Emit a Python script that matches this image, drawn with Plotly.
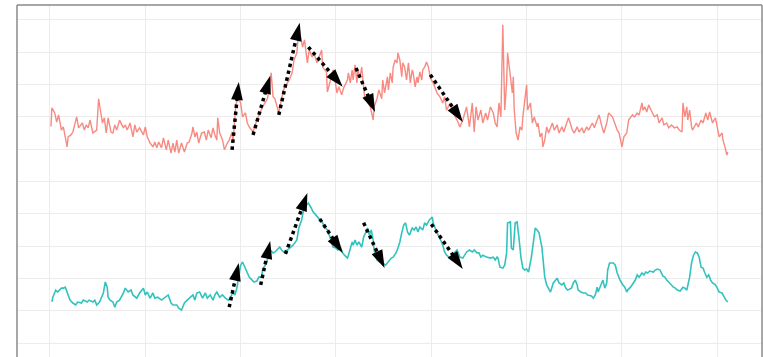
import plotly.graph_objects as go

# ---- series: upper (red) index ----
red_x = [1, 2, 5, 7, 9, 12, 14, 18, 19, 22, 24, 28, 30, 34, 36, 38, 40, 42, 45, 49,
         51, 55, 57, 59, 61, 64, 66, 68, 70, 73, 77, 79, 81, 84, 87, 89, 91, 94, 98, 100,
         102, 105, 108, 110, 112, 114, 117, 119, 122, 124, 127, 129, 131, 133, 135, 138, 141, 144, 146, 149,
         150, 152, 154, 156, 159, 162, 164, 166, 169, 171, 173, 175, 176, 178, 181, 183, 186, 188, 191, 192,
         195, 197, 200, 202, 205, 207, 209, 212, 213, 217, 220, 223, 228, 230, 232, 234, 236, 238, 240, 243,
         245, 249, 251, 254, 256, 259, 260, 263, 265, 267, 270, 272, 275, 277, 280, 282, 285, 286, 290, 291,
         294, 297, 299, 301, 303, 306, 308, 312, 313, 315, 317, 318, 320, 322, 323, 325, 327, 329, 330, 333,
         336, 339, 340, 343, 345, 348, 349, 351, 354, 355, 357, 359, 360, 362, 364, 365, 367, 369, 370, 372,
         374, 376, 378, 380, 381, 383, 385, 386, 388, 390, 391, 393, 395, 397, 399, 402, 406, 409, 412, 414,
         416, 420, 423, 427, 430, 433, 437, 440, 443, 445, 447, 449, 452, 454, 457, 459, 462, 465, 467, 469,
         471, 473, 474, 475, 476, 477, 479, 480, 483, 485, 486, 487, 489, 491, 493, 495, 496, 498, 500, 501,
         504, 506, 508, 511, 512, 514, 516, 517, 519, 521, 523, 527, 529, 532, 534, 537, 539, 542, 544, 548,
         550, 553, 555, 558, 560, 563, 565, 569, 571, 574, 576, 579, 581, 584, 586, 590, 592, 595, 597, 600,
         602, 605, 607, 611, 613, 616, 618, 621, 622, 624, 626, 628, 632, 634, 637, 639, 642, 644, 647, 649,
         652, 655, 658, 660, 663, 664, 666, 668, 669, 671, 673, 674, 678, 680, 683, 685, 688, 690, 692, 695,
         698, 700, 702, 705, 706, 708, 710, 711]
red_y = [67.0, 72.8, 71.2, 68.4, 70.6, 65.9, 66.9, 60.7, 63.8, 64.4, 65.3, 70.0, 66.6, 68.1, 65.9, 67.5, 66.6, 69.0, 65.0, 65.9,
         75.6, 68.1, 69.7, 65.0, 69.7, 65.3, 65.0, 67.5, 65.9, 69.0, 66.6, 67.5, 65.9, 68.1, 63.8, 67.5, 65.3, 66.6, 64.4, 66.9,
         63.8, 61.9, 60.7, 62.2, 60.4, 62.2, 60.4, 63.5, 59.8, 62.8, 58.8, 61.9, 59.1, 62.8, 58.8, 61.9, 59.1, 61.9, 62.2, 65.0,
         66.9, 63.8, 65.3, 61.9, 65.0, 65.3, 62.8, 65.9, 63.5, 66.6, 64.4, 62.8, 69.7, 65.0, 62.8, 59.8, 61.9, 62.8, 65.3, 62.2,
         73.7, 76.2, 74.3, 70.0, 71.2, 68.1, 66.9, 65.9, 65.3, 69.0, 71.2, 73.1, 75.6, 78.3, 83.6, 76.2, 75.6, 73.1, 71.2, 75.6,
         78.3, 80.5, 81.4, 83.6, 87.6, 89.8, 93.8, 94.7, 91.6, 93.8, 86.7, 90.7, 88.5, 89.8, 86.7, 88.2, 90.7, 85.4, 83.9, 77.7,
         81.4, 84.5, 81.4, 77.4, 79.3, 76.8, 78.9, 81.4, 83.6, 80.5, 84.5, 81.4, 86.1, 80.5, 84.5, 82.0, 85.4, 78.3, 76.2, 74.6,
         73.1, 69.0, 73.1, 75.6, 78.3, 75.6, 81.4, 77.4, 82.4, 78.3, 83.6, 80.5, 85.4, 87.6, 86.7, 89.8, 87.6, 82.4, 86.7, 85.4,
         81.4, 86.7, 80.5, 84.5, 83.6, 79.3, 82.4, 80.5, 83.9, 81.4, 84.5, 85.4, 87.0, 85.4, 82.0, 80.5, 77.4, 76.2, 74.3, 76.2,
         72.1, 74.3, 71.2, 69.0, 66.9, 69.0, 73.1, 66.9, 74.3, 65.3, 73.1, 69.0, 72.1, 68.1, 71.2, 69.0, 73.1, 71.2, 68.1, 66.9,
         74.3, 70.0, 91.6, 98.5, 85.4, 72.1, 80.5, 89.8, 82.4, 77.4, 82.4, 72.1, 65.0, 62.8, 66.9, 65.9, 70.0, 75.2, 79.9, 72.1,
         74.3, 68.1, 70.0, 66.9, 68.1, 63.8, 65.0, 60.7, 62.8, 66.9, 65.0, 68.1, 65.9, 67.5, 65.0, 66.9, 65.3, 68.1, 69.7, 65.9,
         65.0, 66.9, 65.3, 66.6, 65.0, 66.9, 65.9, 68.1, 66.6, 69.0, 70.6, 66.9, 65.0, 68.1, 71.2, 70.0, 68.1, 65.9, 65.0, 60.7,
         63.8, 65.0, 69.0, 70.6, 70.0, 71.2, 70.6, 74.3, 72.1, 73.1, 71.5, 73.7, 71.2, 70.0, 70.6, 68.1, 69.7, 67.5, 68.1, 66.6,
         67.5, 66.6, 66.9, 65.9, 65.3, 74.3, 70.0, 73.1, 69.0, 72.1, 66.9, 65.9, 68.1, 66.9, 69.0, 68.1, 71.2, 69.0, 71.5, 68.1,
         69.7, 66.6, 63.8, 65.0, 62.8, 60.7, 58.2, 59.1]

# ---- series: lower (teal) index ----
teal_x = [2, 3, 6, 8, 12, 14, 16, 18, 21, 24, 27, 29, 33, 35, 39, 41, 45, 47, 49, 52,
          56, 58, 60, 61, 63, 66, 68, 70, 73, 77, 79, 82, 85, 87, 91, 94, 98, 100, 102, 105,
          108, 110, 113, 117, 121, 124, 127, 129, 133, 135, 138, 141, 144, 146, 150, 152, 154, 157, 160, 163,
          165, 168, 171, 173, 175, 178, 181, 184, 187, 189, 192, 194, 196, 198, 200, 202, 205, 207, 209, 212,
          214, 217, 219, 222, 223, 227, 229, 231, 234, 236, 238, 241, 243, 245, 249, 252, 255, 259, 261, 264,
          266, 269, 271, 274, 276, 279, 281, 284, 286, 288, 291, 293, 295, 297, 300, 302, 305, 307, 309, 312,
          313, 315, 317, 318, 320, 322, 324, 327, 329, 331, 333, 335, 337, 339, 340, 342, 343, 346, 349, 352,
          355, 358, 360, 363, 365, 367, 369, 371, 373, 375, 377, 380, 382, 384, 386, 388, 391, 393, 395, 398,
          401, 402, 404, 406, 409, 412, 414, 416, 420, 423, 425, 427, 430, 433, 435, 437, 440, 443, 445, 448,
          450, 452, 454, 456, 458, 462, 465, 467, 469, 470, 472, 475, 477, 479, 480, 483, 484, 486, 487, 488,
          490, 491, 492, 494, 496, 498, 500, 502, 505, 507, 509, 511, 513, 516, 517, 519, 521, 525, 528, 530,
          532, 534, 537, 539, 541, 543, 547, 549, 551, 553, 554, 557, 559, 562, 564, 568, 570, 572, 574, 575,
          578, 580, 582, 584, 585, 587, 591, 593, 595, 598, 601, 603, 605, 606, 609, 612, 614, 616, 618, 621,
          623, 625, 627, 629, 633, 635, 637, 640, 643, 645, 647, 650, 654, 656, 658, 661, 664, 666, 668, 671,
          673, 675, 677, 679, 681, 683, 685, 687, 689, 691, 693, 695, 698, 700, 702, 705, 707, 709, 711]
teal_y = [12.8, 14.2, 16.4, 15.8, 17.0, 17.0, 17.3, 15.5, 13.3, 12.4, 11.8, 12.7, 12.4, 13.3, 12.7, 13.3, 12.7, 13.3, 11.8, 12.7,
          15.5, 18.9, 17.3, 14.2, 13.3, 12.7, 11.1, 12.7, 13.3, 15.5, 17.0, 15.8, 16.4, 14.9, 13.9, 15.5, 17.0, 14.9, 15.8, 13.9,
          15.5, 13.9, 14.2, 13.3, 14.2, 14.9, 12.4, 11.8, 11.8, 10.8, 10.2, 12.4, 13.3, 13.9, 14.9, 13.3, 15.5, 15.8, 13.9, 15.5,
          13.9, 14.9, 13.3, 14.9, 15.8, 14.2, 14.9, 13.9, 13.3, 13.9, 15.8, 14.9, 17.0, 20.7, 24.1, 25.1, 23.2, 21.7, 20.4, 19.5,
          18.9, 19.2, 20.4, 20.4, 22.6, 24.8, 26.6, 28.8, 27.9, 28.2, 28.8, 29.7, 28.8, 28.2, 28.8, 29.7, 30.3, 31.9, 35.6, 38.1,
          41.2, 42.7, 43.3, 41.8, 40.6, 39.6, 39.0, 38.1, 37.2, 35.9, 35.0, 33.4, 31.3, 29.7, 29.4, 28.8, 29.4, 27.9, 27.2, 26.3,
          27.2, 29.4, 31.3, 30.3, 31.9, 30.3, 31.3, 29.7, 32.8, 34.1, 35.6, 33.4, 35.0, 31.9, 28.8, 26.6, 25.7, 25.1, 24.8, 24.1,
          25.1, 26.3, 26.6, 27.9, 29.4, 31.3, 34.1, 36.5, 37.2, 34.4, 33.4, 35.6, 35.0, 35.9, 34.4, 35.9, 35.0, 37.2, 36.5, 38.1,
          39.0, 37.2, 35.6, 34.1, 32.5, 30.3, 28.2, 27.2, 26.3, 27.2, 28.2, 28.8, 26.6, 26.3, 27.2, 28.2, 28.8, 28.2, 28.8, 27.9,
          27.9, 26.6, 27.2, 26.9, 26.6, 26.3, 26.6, 25.7, 26.6, 26.3, 23.5, 23.2, 24.1, 27.9, 37.2, 37.5, 29.4, 28.8, 32.8, 37.2,
          37.5, 35.6, 32.5, 26.6, 23.2, 22.6, 22.9, 22.0, 26.6, 31.0, 35.6, 35.0, 34.1, 29.7, 25.7, 20.4, 18.0, 15.8, 18.6, 19.5,
          20.1, 18.6, 18.0, 18.6, 17.0, 16.4, 17.0, 18.6, 19.5, 18.0, 16.4, 15.8, 15.5, 15.5, 14.9, 14.6, 13.9, 14.9, 17.3, 15.8,
          18.0, 19.5, 17.0, 18.6, 22.6, 24.8, 24.8, 24.1, 21.7, 19.5, 18.0, 17.3, 15.8, 16.4, 17.3, 18.6, 19.5, 21.1, 20.4, 21.7,
          21.1, 22.0, 21.7, 22.3, 22.0, 22.6, 22.9, 22.6, 20.7, 20.4, 19.5, 18.6, 17.3, 17.0, 16.4, 16.1, 17.3, 17.0, 16.4, 20.4,
          24.8, 27.2, 28.2, 27.9, 26.6, 23.5, 23.2, 21.7, 20.4, 21.1, 19.5, 18.6, 18.0, 17.0, 15.8, 15.5, 14.2, 13.3, 12.7]

# ---- trend arrows: (x_start, y_start, x_end, y_end) ----
red_arrows = [(191, 59.8, 198, 80.8), (213, 64.4, 231, 82.7), (240, 70.6, 262, 99.1),
              (271, 91.6, 307, 79.3), (321, 85.1, 341, 71.5), (399, 83.0, 433, 68.4)]
teal_arrows = [(188, 11.1, 198, 24.8), (221, 18.0, 231, 31.6), (247, 27.6, 270, 46.4),
               (283, 38.4, 307, 27.9), (329, 37.2, 351, 23.2), (400, 36.8, 433, 22.9)]

fig = go.Figure()
fig.add_trace(go.Scatter(x=red_x, y=red_y, mode="lines",
                         line=dict(color="#F8766D", width=1.4), opacity=0.85,
                         showlegend=False, hoverinfo="skip"))
fig.add_trace(go.Scatter(x=teal_x, y=teal_y, mode="lines",
                         line=dict(color="#1DBDB8", width=1.6), opacity=0.9,
                         showlegend=False, hoverinfo="skip"))

for x0, y0, x1, y1 in red_arrows + teal_arrows:
    fig.add_trace(go.Scatter(
        x=[x0, x1], y=[y0, y1], mode="lines+markers",
        line=dict(color="black", width=3.5, dash="dot"),
        marker=dict(symbol="arrow", size=[0, 19], color="black", opacity=1,
                    angleref="previous", line=dict(width=0)),
        showlegend=False, hoverinfo="skip"))

# frame of the panel (bottom edge runs off the canvas)
frame = dict(type="line", xref="paper", yref="paper", layer="above",
             line=dict(color="#8a8a8a", width=1.5))
fig.add_shape(**frame, x0=0, x1=0, y0=0, y1=1)
fig.add_shape(**frame, x0=0, x1=1, y0=1, y1=1)
fig.add_shape(**frame, x0=1, x1=1, y0=0, y1=1)

fig.add_annotation(text="o", xref="paper", yref="paper", x=-0.0195, y=0.46,
                   xanchor="right", yanchor="middle", showarrow=False,
                   font=dict(size=8, color="#444"))

fig.update_layout(
    width=763, height=357,
    margin=dict(l=17, r=1, t=5, b=0),
    paper_bgcolor="white", plot_bgcolor="white",
    xaxis=dict(range=[-34.6, 746.9], tick0=0, dtick=100, showticklabels=False,
               ticks="", showgrid=True, gridcolor="#ececec", gridwidth=1,
               zeroline=False, showline=False),
    yaxis=dict(range=[-4.3, 104.6], tick0=0, dtick=10, showticklabels=False,
               ticks="", showgrid=True, gridcolor="#ececec", gridwidth=1,
               zeroline=False, showline=False),
)

fig.write_html("out.html")
